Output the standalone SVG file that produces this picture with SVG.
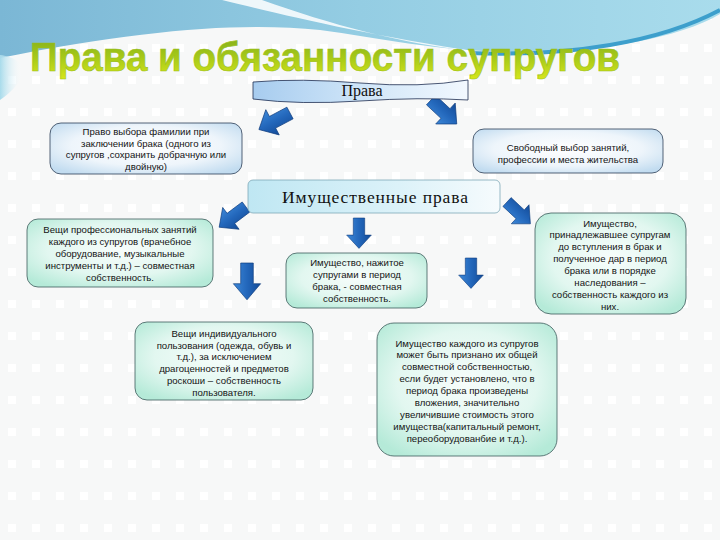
<svg xmlns="http://www.w3.org/2000/svg" width="720" height="540" viewBox="0 0 720 540">
<defs>
<style>
.t{font-family:"Liberation Sans",Arial,sans-serif;font-size:9.6px;fill:#141414;text-anchor:middle}
.s{font-family:"Liberation Serif","Times New Roman",serif;fill:#111;text-anchor:middle}
.bb{fill:url(#gBlue);stroke:#2c3e55;stroke-width:0.8}
.bg{fill:url(#gMint);stroke:#3c5a5a;stroke-width:0.8}
.ar{fill:url(#gArr);stroke:#0d3b7c;stroke-width:0.6}
</style>
<pattern id="dots" width="24" height="32" patternUnits="userSpaceOnUse">
<rect x="8" y="12" width="8" height="8" fill="#ffffff"/>
</pattern>
<linearGradient id="gSky" x1="0" y1="0" x2="1" y2="0">
<stop offset="0" stop-color="#7bb7d5"/>
<stop offset="0.5" stop-color="#94cde3"/>
<stop offset="1" stop-color="#a9dcec"/>
</linearGradient>
<linearGradient id="gLeft" x1="0" y1="0" x2="1" y2="0">
<stop offset="0" stop-color="#a8dbeb"/>
<stop offset="1" stop-color="#ffffff" stop-opacity="0"/>
</linearGradient>
<linearGradient id="gTitle" x1="0" y1="0" x2="0" y2="1">
<stop offset="0" stop-color="#80ad1c"/>
<stop offset="0.55" stop-color="#aacb18"/>
<stop offset="1" stop-color="#d6e61c"/>
</linearGradient>
<linearGradient id="gBanner" x1="0" y1="0" x2="1" y2="0">
<stop offset="0" stop-color="#a7ccef"/>
<stop offset="0.5" stop-color="#cfe5f8"/>
<stop offset="1" stop-color="#f2f8fe"/>
</linearGradient>
<linearGradient id="gIm" x1="0" y1="0" x2="1" y2="0">
<stop offset="0" stop-color="#bfe7f3"/>
<stop offset="0.6" stop-color="#dcf2f9"/>
<stop offset="1" stop-color="#f6fbfd"/>
</linearGradient>
<radialGradient id="gBlue" cx="0.5" cy="0.45" r="0.65">
<stop offset="0" stop-color="#ffffff"/>
<stop offset="0.6" stop-color="#eef5fb"/>
<stop offset="1" stop-color="#c2dcf0"/>
</radialGradient>
<radialGradient id="gMint" cx="0.5" cy="0.45" r="0.65">
<stop offset="0" stop-color="#f7fdfb"/>
<stop offset="0.6" stop-color="#e2f7f0"/>
<stop offset="1" stop-color="#b5ead8"/>
</radialGradient>
<linearGradient id="gArr" x1="0" y1="0" x2="1" y2="0">
<stop offset="0" stop-color="#3d88d8"/>
<stop offset="0.5" stop-color="#2367bb"/>
<stop offset="1" stop-color="#134b98"/>
</linearGradient>
<path id="arr" d="M-6,0 L6,0 L6,18 L13,18 L0,32 L-13,18 L-6,18 Z"/>
</defs>

<!-- background -->
<rect width="720" height="540" fill="#f7f8f8"/>
<rect width="720" height="540" fill="url(#dots)"/>
<path d="M0,0 L720,0 L720,14 C680,38 600,52 520,52 C440,52 380,38 320,30 C240,22 140,30 0,58 Z" fill="url(#gSky)"/>
<path d="M222,0 C280,14 360,34 480,52 C400,44 330,24 262,0 Z" fill="#ffffff" opacity="0.85"/>
<path d="M470,53 C570,57 660,42 720,10" fill="none" stroke="#3d9fcc" stroke-width="4"/>
<path d="M0,55 C25,58 35,75 0,100 Z" fill="url(#gLeft)"/>

<!-- title -->
<text x="30" y="71" font-family="'Liberation Sans',Arial,sans-serif" font-weight="bold" font-size="40" fill="url(#gTitle)" stroke="#9bbf1a" stroke-width="0.6" textLength="590" lengthAdjust="spacingAndGlyphs">Права и обязанности супругов</text>

<!-- connectors -->
<g id="connectors">
<use href="#arr" class="ar" transform="translate(290,113) rotate(62) scale(1.1)"/>
<use href="#arr" class="ar" transform="translate(431,100) rotate(-47) scale(1.1)"/>
<use href="#arr" class="ar" transform="translate(246,207) rotate(53) scale(1.05)"/>
<use href="#arr" class="ar" transform="translate(507,202) rotate(-47) scale(1.0)"/>
<use href="#arr" class="ar" transform="translate(359,218) scale(0.95)"/>
<use href="#arr" class="ar" transform="translate(247,263) scale(1.05,1.15)"/>
<use href="#arr" class="ar" transform="translate(471,258) scale(0.95)"/>
</g>

<g id="n-prava">
<path d="M253,82 Q300,78 360,83 T468,80 L468,100 Q420,97 360,101 T253,99 Z" fill="url(#gBanner)" stroke="#1e2d50" stroke-width="0.8"/>
<text class="s" x="362" y="96" font-size="16">Права</text>
</g>

<g id="n-familia">
<rect class="bb" x="50" y="123" width="192" height="51" rx="11"/>
<text class="t" x="146" y="135">Право выбора фамилии при</text>
<text class="t" x="146" y="146.7">заключении брака (одного из</text>
<text class="t" x="146" y="158.3">супругов  ,сохранить добрачную или</text>
<text class="t" x="146" y="170">двойную)</text>
</g>

<g id="n-vybor">
<rect class="bb" x="473" y="129" width="190" height="44" rx="11"/>
<text class="t" x="568" y="150.5">Свободный выбор занятий,</text>
<text class="t" x="568" y="162.5">профессии и места жительства</text>
</g>

<g id="n-imush">
<rect x="248" y="180" width="252" height="33" rx="5" fill="url(#gIm)" stroke="#7fa8b8" stroke-width="0.8"/>
<text class="s" x="375" y="203" font-size="17.5" textLength="186" lengthAdjust="spacing">Имущественные права</text>
</g>

<g id="n-prof">
<rect class="bg" x="27" y="219" width="186" height="68" rx="11"/>
<text class="t" x="120" y="233">Вещи профессиональных занятий</text>
<text class="t" x="120" y="245">каждого из супругов (врачебное</text>
<text class="t" x="120" y="257">оборудование, музыкальные</text>
<text class="t" x="120" y="269">инструменты и т.д.) – совместная</text>
<text class="t" x="120" y="281">собственность.</text>
</g>

<g id="n-nazhitoe">
<rect class="bg" x="286" y="253" width="141" height="55" rx="11"/>
<text class="t" x="357" y="266">Имущество, нажитое</text>
<text class="t" x="357" y="278">супругами в период</text>
<text class="t" x="357" y="290">брака, - совместная</text>
<text class="t" x="357" y="302">собственность.</text>
</g>

<g id="n-dobrach">
<rect class="bg" x="535" y="213" width="151" height="101" rx="16"/>
<text class="t" x="610" y="226.5">Имущество,</text>
<text class="t" x="610" y="238.4">принадлежавшее супругам</text>
<text class="t" x="610" y="250.3">до вступления  в брак и</text>
<text class="t" x="610" y="262.2">полученное дар в период</text>
<text class="t" x="610" y="274.1">брака или в порядке</text>
<text class="t" x="610" y="286">наследования –</text>
<text class="t" x="610" y="297.9">собственность каждого из</text>
<text class="t" x="610" y="309.8">них.</text>
</g>

<g id="n-individ">
<rect class="bg" x="135" y="322" width="178" height="78" rx="12"/>
<text class="t" x="224" y="337">Вещи индивидуального</text>
<text class="t" x="224" y="348.7">пользования (одежда, обувь и</text>
<text class="t" x="224" y="360.4">т.д.), за исключением</text>
<text class="t" x="224" y="372.1">драгоценностей и предметов</text>
<text class="t" x="224" y="383.8">роскоши – собственность</text>
<text class="t" x="224" y="395.5">пользователя.</text>
</g>

<g id="n-vlozhenia">
<rect class="bg" x="377" y="323" width="180" height="133" rx="17"/>
<text class="t" x="467" y="346.5">Имущество каждого из супругов</text>
<text class="t" x="467" y="358.4">может быть признано их общей</text>
<text class="t" x="467" y="370.3">совместной собственностью,</text>
<text class="t" x="467" y="382.2">если будет установлено, что в</text>
<text class="t" x="467" y="394.1">период брака произведены</text>
<text class="t" x="467" y="406">вложения, значительно</text>
<text class="t" x="467" y="417.9">увеличившие стоимость этого</text>
<text class="t" x="467" y="429.8">имущества(капитальный ремонт,</text>
<text class="t" x="467" y="441.7">переоборудованбие и т.д.).</text>
</g>
</svg>
